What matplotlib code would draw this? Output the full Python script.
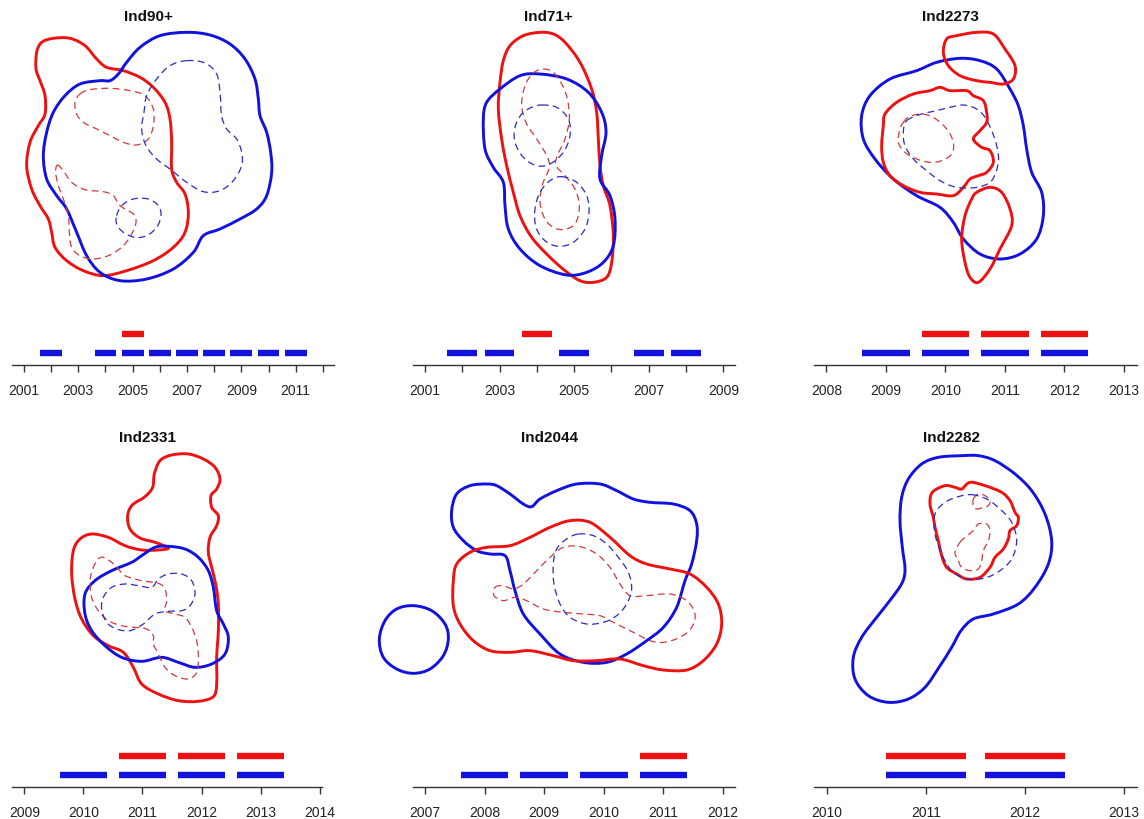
import numpy as np
import matplotlib
matplotlib.use('Agg')
import matplotlib.pyplot as plt
from matplotlib.path import Path
from matplotlib.patches import PathPatch

plt.rcParams['font.family'] = ['Liberation Sans', 'DejaVu Sans']

W, H = 1144, 820
RED = '#ee1111'
BLUE = '#1111e0'
RED_D = '#d03a3a'
BLUE_D = '#2a2ac0'

titles = ['Ind90+', 'Ind71+', 'Ind2273', 'Ind2331', 'Ind2044', 'Ind2282']

# contour outlines (95% solid, 50% dashed), traced in local map units
ind90_red95 = [(160,118),(210,118),(255,140),(290,180),(320,205),(370,215),(420,235),(460,265),(495,310),(510,360),(515,430),(515,510),(530,550),(555,585),(565,640),(555,700),(520,745),(460,785),(380,815),(310,830),(250,815),(200,785),(165,745),(155,700),(145,660),(120,620),(95,570),(80,500),(90,430),(115,380),(135,345),(135,290),(120,245),(108,210),(110,160),(125,130)]
ind90_red50a = [(240,285),(270,272),(330,268),(390,275),(435,290),(460,330),(460,380),(445,420),(410,438),(370,430),(330,410),(290,390),(250,370),(230,345),(225,310)]
ind90_red50b = [(172,498),(190,515),(215,550),(255,572),(310,578),(340,590),(360,620),(400,645),(408,670),(395,705),(370,740),(330,768),(280,780),(240,770),(215,745),(208,700),(205,650),(190,600),(175,560),(167,520)]
ind90_blue95 = [(560,100),(630,108),(690,135),(735,180),(765,240),(775,300),(780,350),(800,400),(812,460),(815,520),(800,590),(770,630),(720,660),(660,690),(610,710),(580,760),(520,810),(440,840),(360,845),(300,820),(260,770),(230,700),(200,630),(170,590),(140,540),(130,470),(140,400),(160,340),(195,290),(240,255),(300,245),(330,245),(355,225),(380,190),(420,145),(480,110)]
ind90_blue50a = [(560,185),(615,192),(650,225),(660,280),(665,350),(680,390),(710,420),(725,460),(725,500),(700,545),(660,575),(610,578),(560,550),(510,510),(470,480),(438,440),(425,390),(432,340),(440,290),(470,240),(510,200)]
ind90_blue50b = [(350,650),(365,620),(400,600),(445,600),(475,620),(483,650),(470,685),(440,710),(405,715),(370,700),(350,675)]

ind71_red95 = [(210,100),(250,105),(285,130),(330,190),(365,270),(380,340),(385,420),(390,500),(400,560),(420,620),(430,710),(425,790),(410,835),(370,850),(330,845),(285,815),(235,770),(185,715),(150,650),(130,580),(110,500),(95,420),(85,330),(90,250),(100,185),(120,140),(160,110)]
ind71_red50 = [(220,210),(250,220),(275,255),(292,300),(298,360),(285,420),(262,470),(258,500),(285,530),(315,570),(328,620),(318,670),(290,690),(255,688),(225,660),(210,610),(218,555),(238,505),(230,470),(200,420),(170,375),(155,320),(165,260),(190,222)]
ind71_blue95 = [(210,225),(290,240),(355,280),(395,340),(408,400),(395,470),(390,540),(420,590),(435,660),(430,740),(400,790),(350,820),(290,828),(210,800),(150,750),(115,690),(105,620),(100,550),(70,505),(45,450),(40,360),(50,310),(90,270),(150,230)]
ind71_blue50a = [(215,318),(260,325),(295,360),(300,410),(280,460),(240,495),(200,500),(160,475),(135,430),(135,385),(155,345),(185,325)]
ind71_blue50b = [(275,533),(320,550),(350,590),(357,640),(345,690),(310,730),(265,742),(225,725),(198,685),(195,630),(210,580),(240,545)]

ind2273_blue95 = [(330,178),(390,185),(440,210),(480,270),(505,320),(520,380),(530,450),(545,520),(575,580),(580,650),(560,720),(510,765),(450,780),(390,765),(340,720),(310,670),(270,625),(200,590),(130,540),(75,480),(40,420),(35,350),(60,290),(120,240),(200,215),(260,190)]
ind2273_red95a = [(290,120),(320,110),(380,100),(430,105),(465,150),(495,200),(490,240),(460,255),(420,250),(380,245),(330,230),(295,200),(280,160)]
ind2273_red95b = [(380,580),(420,565),(455,580),(480,630),(485,680),(450,750),(420,810),(385,850),(360,835),(345,790),(335,720),(345,650),(365,600)]
ind2273_red95c = [(100,380),(105,345),(140,310),(190,285),(240,275),(270,265),(300,275),(350,275),(370,290),(400,305),(410,340),(410,370),(390,395),(370,420),(395,445),(420,455),(430,490),(410,520),(385,530),(360,540),(340,565),(310,590),(260,585),(210,580),(160,560),(120,530),(100,490),(95,440)]
ind2273_red50 = [(160,370),(175,355),(210,345),(250,355),(290,390),(310,430),(305,465),(275,485),(240,490),(200,480),(165,460),(145,430),(150,390)]
ind2273_blue50 = [(170,365),(215,345),(260,335),(300,325),(340,318),(380,330),(405,355),(425,395),(440,440),(445,490),(425,545),(380,565),(320,565),(270,545),(230,515),(190,480),(165,440),(160,400)]

ind2331_red95 = [(350,93),(400,90),(445,105),(480,130),(495,165),(485,195),(468,215),(470,250),(490,275),(485,305),(465,340),(460,385),(470,430),(482,480),(490,540),(490,620),(485,700),(485,780),(475,818),(430,832),(370,830),(310,810),(260,780),(235,730),(205,685),(160,665),(115,635),(80,585),(60,525),(50,450),(55,380),(75,345),(110,330),(160,340),(210,365),(260,378),(310,378),(340,372),(300,355),(255,342),(225,315),(218,275),(232,243),(270,218),(293,190),(298,150),(315,110)]
ind2331_red50 = [(130,405),(145,400),(170,415),(190,435),(210,455),(260,470),(310,478),(330,495),(335,530),(330,560),(360,570),(390,580),(410,610),(425,650),(430,700),(425,745),(400,765),(360,755),(330,730),(310,690),(295,660),(295,635),(275,615),(240,610),(200,605),(160,590),(130,560),(110,520),(105,470),(115,430)]
ind2331_blue95 = [(340,367),(390,375),(430,400),(460,440),(475,490),(485,560),(505,600),(520,640),(510,690),(470,720),(420,730),(370,715),(320,700),(260,712),(200,700),(150,665),(110,620),(90,570),(90,510),(120,470),(170,440),(230,415),(260,395),(300,370)]
ind2331_blue50 = [(140,555),(145,520),(170,490),(210,480),(250,485),(290,490),(310,465),(340,450),(380,450),(410,470),(420,510),(405,545),(380,560),(340,562),(300,570),(265,600),(225,620),(185,615),(155,595)]

ind2044_blue95a = [(130,545),(185,560),(225,600),(235,645),(220,695),(180,735),(130,748),(80,735),(40,700),(28,645),(45,590),(80,555)]
ind2044_blue95b = [(350,180),(380,185),(420,210),(460,240),(485,248),(510,225),(560,200),(620,180),(690,180),(740,200),(790,225),(840,235),(910,240),(960,260),(980,300),(980,350),(965,420),(945,470),(920,550),(880,610),(830,650),(770,690),(710,715),(640,715),(570,690),(510,630),(460,570),(435,500),(420,440),(405,395),(360,390),(320,380),(280,350),(250,310),(245,260),(260,210),(300,185)]
ind2044_red95 = [(250,470),(260,420),(300,385),(350,370),(420,365),(480,340),(540,310),(600,290),(660,295),(720,340),(780,395),(830,420),(900,435),(960,450),(1010,490),(1045,540),(1055,600),(1040,660),(1000,710),(950,738),(880,738),(820,725),(750,705),(680,710),(610,710),(550,695),(480,680),(420,685),(360,680),(310,650),(270,600),(250,545)]
ind2044_red50 = [(375,490),(400,485),(430,495),(460,480),(500,440),(540,400),(580,370),(630,368),(680,390),(720,430),(750,480),(780,515),(830,515),(900,510),(950,530),(975,570),(965,610),(930,640),(880,655),(840,650),(800,630),(760,610),(720,590),(690,575),(640,570),(580,565),(520,555),(470,530),(435,520),(400,530),(372,515)]
ind2044_blue50 = [(625,330),(670,335),(710,360),(745,400),(775,445),(785,495),(770,540),(740,575),(700,595),(650,600),(600,580),(570,540),(552,480),(550,420),(560,375),(590,345)]

ind2282_blue95 = [(350,95),(400,95),(450,110),(510,150),(560,200),(600,270),(620,350),(610,420),(570,490),(520,540),(445,570),(385,585),(348,620),(320,670),(282,730),(240,790),(190,825),(130,835),(70,815),(30,765),(25,700),(50,640),(95,580),(142,520),(172,475),(180,435),(172,370),(165,290),(170,220),(190,165),(230,120),(280,100)]
ind2282_red95 = [(255,240),(262,205),(300,185),(330,190),(350,195),(375,175),(420,185),(470,205),(495,230),(510,265),(520,280),(515,305),(495,320),(490,345),(475,375),(450,400),(435,430),(405,460),(365,465),(335,450),(305,430),(290,395),(280,350),(270,310),(265,280)]
ind2282_red50a = [(385,225),(400,210),(420,215),(435,230),(430,245),(415,250),(395,255),(385,245)]
ind2282_red50b = [(345,355),(360,340),(385,320),(400,300),(425,300),(435,320),(430,350),(415,380),(410,410),(400,435),(375,440),(350,430),(340,410),(330,385)]
ind2282_blue50 = [(380,212),(425,225),(465,255),(500,295),(515,350),(500,405),(465,440),(420,462),(365,465),(320,440),(290,390),(270,330),(270,270),(300,235),(340,218)]

# years with locations, per individual
blue_years = [[2002, 2004, 2005, 2006, 2007, 2008, 2009, 2010, 2011],
              [2002, 2003, 2005, 2007, 2008],
              [2009, 2010, 2011, 2012],
              [2010, 2011, 2012, 2013],
              [2008, 2009, 2010, 2011],
              [2011, 2012]]
red_years = [[2005],
             [2004],
             [2010, 2011, 2012],
             [2011, 2012, 2013],
             [2011],
             [2011, 2012]]
tick_years = [range(2001, 2013), range(2001, 2010), range(2008, 2014),
              range(2009, 2015), range(2007, 2013), range(2010, 2014)]
label_years = [range(2001, 2013, 2), range(2001, 2010, 2), range(2008, 2014),
               range(2009, 2015), range(2007, 2013), range(2010, 2014)]

contours = [
    [(ind90_red95, RED, '-'), (ind90_blue95, BLUE, '-'), (ind90_red50a, RED_D, '--'),
     (ind90_red50b, RED_D, '--'), (ind90_blue50a, BLUE_D, '--'), (ind90_blue50b, BLUE_D, '--')],
    [(ind71_red95, RED, '-'), (ind71_blue95, BLUE, '-'), (ind71_red50, RED_D, '--'),
     (ind71_blue50a, BLUE_D, '--'), (ind71_blue50b, BLUE_D, '--')],
    [(ind2273_blue95, BLUE, '-'), (ind2273_red95a, RED, '-'), (ind2273_red95b, RED, '-'),
     (ind2273_red95c, RED, '-'), (ind2273_red50, RED_D, '--'), (ind2273_blue50, BLUE_D, '--')],
    [(ind2331_red95, RED, '-'), (ind2331_blue95, BLUE, '-'), (ind2331_red50, RED_D, '--'),
     (ind2331_blue50, BLUE_D, '--')],
    [(ind2044_blue95a, BLUE, '-'), (ind2044_blue95b, BLUE, '-'), (ind2044_red95, RED, '-'),
     (ind2044_red50, RED_D, '--'), (ind2044_blue50, BLUE_D, '--')],
    [(ind2282_blue95, BLUE, '-'), (ind2282_red95, RED, '-'), (ind2282_red50a, RED_D, '--'),
     (ind2282_red50b, RED_D, '--'), (ind2282_blue50, BLUE_D, '--')],
]

# layout (pixels)
map_boxes = [(0, 0, 290, 290), (470, 0, 160, 290), (850, 0, 200, 290),
             (55, 425, 180, 285), (370, 425, 360, 250), (845, 425, 215, 285)]
title_pos = [(148, 17), (548, 17), (950, 17), (148, 438), (550, 438), (951, 438)]
tl_px = [(12, 334), (413, 735), (814, 1137), (12, 322), (413, 735), (814, 1137)]
tl_lim = [(2000.56, 2012.41), (2000.68, 2009.31), (2007.79, 2013.22),
          (2008.79, 2014.04), (2006.8, 2012.2), (2009.87, 2013.13)]
tl_line_y = [366, 366, 366, 788, 788, 788]


def closed_path(pts):
    # closed Catmull-Rom outline as cubic bezier segments
    p = np.asarray(pts, float)
    n = len(p)
    verts = [p[0]]
    codes = [Path.MOVETO]
    for i in range(n):
        p0, p1, p2, p3 = p[i - 1], p[i], p[(i + 1) % n], p[(i + 2) % n]
        verts += [p1 + (p2 - p0) / 6, p2 - (p3 - p1) / 6, p2]
        codes += [Path.CURVE4] * 3
    return Path(verts, codes)


fig = plt.figure(figsize=(W / 100, H / 100), dpi=100)

for k in range(6):
    x0, y0, w, h = map_boxes[k]
    ax = fig.add_axes([x0 / W, 1 - (y0 + h) / H, w / W, h / H])
    ax.set_xlim(0, 3 * w)
    ax.set_ylim(3 * h, 0)
    ax.axis('off')
    for pts, col, ls in contours[k]:
        if ls == '-':
            patch = PathPatch(closed_path(pts), fill=False, edgecolor=col, lw=2.1)
        else:
            patch = PathPatch(closed_path(pts), fill=False, edgecolor=col, lw=0.9,
                              linestyle=(0, (5.5, 3.5)))
        patch.set_clip_on(False)
        ax.add_patch(patch)
    tx, ty = title_pos[k]
    fig.text(tx / W, 1 - ty / H, titles[k], ha='center', va='center',
             fontsize=11, fontweight='bold', color='#111111')

    # timeline
    a, b = tl_px[k]
    yl = tl_line_y[k]
    tax = fig.add_axes([a / W, 1 - yl / H, (b - a) / W, 45 / H])
    tax.set_xlim(*tl_lim[k])
    tax.set_ylim(0.4, 2.7)
    for s in ['top', 'left', 'right']:
        tax.spines[s].set_visible(False)
    tax.spines['bottom'].set_color('#333333')
    tax.spines['bottom'].set_linewidth(1.0)
    tax.set_yticks([])
    tax.hlines([1] * len(blue_years[k]), [y - 0.4 for y in blue_years[k]],
               [y + 0.4 for y in blue_years[k]], color=BLUE, lw=4.6, capstyle='butt')
    tax.hlines([2] * len(red_years[k]), [y - 0.4 for y in red_years[k]],
               [y + 0.4 for y in red_years[k]], color=RED, lw=4.6, capstyle='butt')
    ticks = list(tick_years[k])
    labs = [str(t) if t in label_years[k] else '' for t in ticks]
    tax.set_xticks(ticks)
    tax.set_xticklabels(labs)
    tax.tick_params(axis='x', length=5, width=1, color='#333333', pad=8,
                    labelsize=10, labelcolor='#222222')

fig.savefig('out.png', dpi=100)
